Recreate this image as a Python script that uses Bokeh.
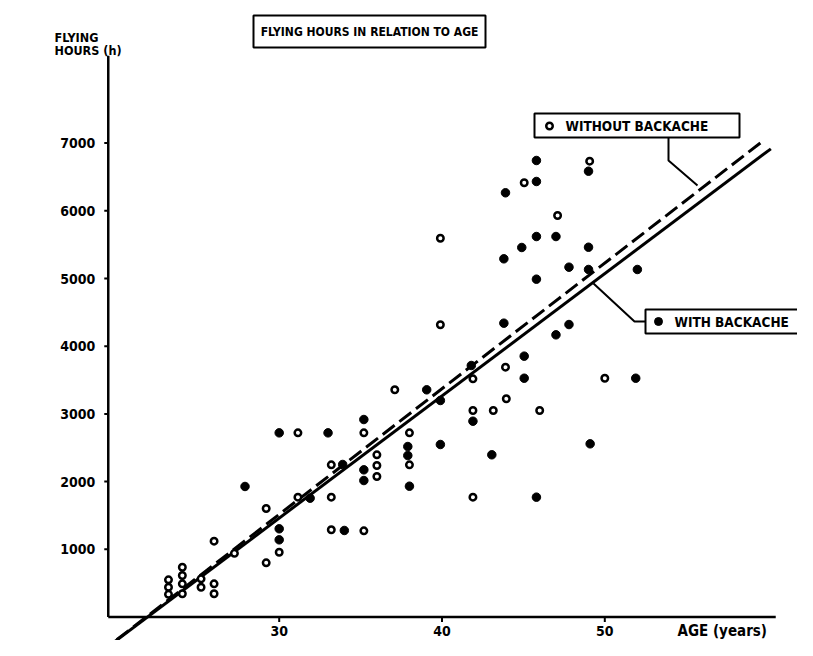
from bokeh.plotting import figure
from bokeh.models import Range1d, Label
from bokeh.core.properties import value
from bokeh.embed import file_html
from bokeh.resources import INLINE

# ---------------- data ----------------
age_without = [23.2, 23.2, 23.2, 24.05, 24.05, 24.05, 24.05, 25.2, 25.2, 26.0, 26.0, 26.0,
               27.25, 29.2, 29.2, 30.0, 31.15, 31.15, 33.2, 33.2, 33.2, 35.2, 35.2, 36.0,
               36.0, 36.0, 37.1, 38.0, 38.0, 39.9, 39.9, 41.9, 41.9, 41.9, 43.15, 43.9,
               43.95, 45.05, 46.0, 47.1, 49.07, 50.0]
hours_without = [549, 440, 335, 735, 613, 490, 343, 564, 440, 490, 343, 1120,
                 940, 1603, 800, 957, 2720, 1770, 2248, 1770, 1288, 2720, 1273, 2395,
                 2238, 2075, 3356, 2720, 2248, 5595, 4316, 3518, 3050, 1770, 3050, 3690,
                 3223, 6414, 3050, 5931, 6733, 3527]

age_with = [27.9, 30.0, 30.0, 30.0, 31.9, 33.0, 33.9, 34.0, 35.2, 35.2, 35.2, 37.9, 37.9,
            38.0, 39.06, 39.9, 39.9, 41.8, 41.9, 43.06, 43.8, 43.8, 43.9, 45.05, 45.05,
            44.9, 45.8, 45.8, 45.8, 45.8, 45.8, 47.0, 47.0, 47.8, 47.8, 49.0, 49.0, 49.0,
            49.1, 51.9, 52.0]
hours_with = [1928, 2720, 1303, 1140, 1755, 2720, 2253, 1278, 2917, 2174, 2016, 2518, 2385,
              1932, 3356, 3198, 2548, 3715, 2892, 2396, 5291, 4340, 6266, 3853, 3527,
              5458, 6743, 6433, 5620, 4990, 1770, 5620, 4168, 5167, 4320, 6585, 5462, 5133,
              2558, 3527, 5133]

# regression lines (intercept, slope) and drawn age span
reg_without = (-4052.0, 185.6)
reg_without_span = [19.0, 59.6]
reg_with = (-3957.0, 180.6)
reg_with_span = [19.0, 60.2]

x_ticks = [30, 40, 50]
x_tick_labels = ["30", "40", "50"]
y_ticks = [1000, 2000, 3000, 4000, 5000, 6000, 7000]
y_tick_labels = ["1000", "2000", "3000", "4000", "5000", "6000", "7000"]
axis_origin = (19.5, 0)
axis_x_end = 60.5
axis_y_end = 8290

# ---------------- layout helpers ----------------
W, H = 797, 640
SX = 16.28                 # px per year
SY = 0.0677                # px per hour
X0 = 30 - 278.7 / SX       # data x at left edge
Y1 = 616.5 / SY            # data y at top edge

def dx(px):
    return X0 + px / SX

def dy(py):
    return Y1 - py / SY

FONT_STR = "Liberation Sans Narrow, DejaVu Sans Condensed, sans-serif"
FONT = value(FONT_STR)

p = figure(width=W, height=H, min_border=0, toolbar_location=None, output_backend="svg",
           x_range=Range1d(X0, X0 + W / SX), y_range=Range1d(Y1 - H / SY, Y1),
           x_axis_type=None, y_axis_type=None)
p.grid.visible = False
p.outline_line_color = None
p.background_fill_color = "white"
p.border_fill_color = "white"

# axes
ox, oy = axis_origin
p.line([ox, axis_x_end], [oy, oy], line_color="black", line_width=2.5)
p.line([ox, ox], [oy, axis_y_end], line_color="black", line_width=2.5)
p.segment(x0=[ox] * len(y_ticks), y0=y_ticks, x1=[ox - 4 / SX] * len(y_ticks), y1=y_ticks,
          line_color="black", line_width=2)
p.segment(x0=x_ticks, y0=[oy] * 3, x1=x_ticks, y1=[oy - 5 / SY] * 3,
          line_color="black", line_width=2)
p.text(x=[ox - 13 / SX] * len(y_ticks), y=y_ticks, text=y_tick_labels, text_font=FONT,
       text_font_style="bold", text_font_size="14px", text_align="right",
       text_baseline="middle", text_color="black")
p.text(x=x_ticks, y=[dy(630)] * 3, text=x_tick_labels, text_font=FONT,
       text_font_style="bold", text_font_size="14px", text_align="center",
       text_baseline="middle", text_color="black")

for txt, px, py, size in [("AGE (years)", 677, 630, "15px"), ("FLYING", 54, 37, "12.5px"),
                          ("HOURS (h)", 54, 50, "12.5px")]:
    p.add_layout(Label(x=dx(px), y=dy(py), text=txt, text_font=FONT_STR, text_font_style="bold",
                       text_font_size=size, text_align="left", text_baseline="middle",
                       text_color="black"))

# regression lines
a, b = reg_without
p.line(reg_without_span, [a + b * v for v in reg_without_span], line_color="black",
       line_width=3, line_dash="15 6")
a, b = reg_with
p.line(reg_with_span, [a + b * v for v in reg_with_span], line_color="black", line_width=3)

# points
p.scatter(age_with, hours_with, marker="circle", size=8.5, fill_color="black",
          line_color="black")
p.scatter(age_without, hours_without, marker="circle", size=6.5, fill_color="white",
          line_color="black", line_width=2.5)

# title box
p.quad(left=[dx(253)], right=[dx(485)], top=[dy(15)], bottom=[dy(47)], fill_color="white",
       line_color="black", line_width=2)
p.add_layout(Label(x=dx(369), y=dy(31), text="FLYING HOURS IN RELATION TO AGE", text_font=FONT_STR,
                   text_font_style="bold", text_font_size="12px", text_align="center",
                   text_baseline="middle", text_color="black"))

# legend: without backache
p.line([dx(668), dx(668), dx(697)], [dy(137), dy(160), dy(185)], line_color="black", line_width=2)
p.quad(left=[dx(534)], right=[dx(739)], top=[dy(113)], bottom=[dy(137)], fill_color="white",
       line_color="black", line_width=2)
p.scatter([dx(549)], [dy(125.5)], marker="circle", size=6.5, fill_color="white",
          line_color="black", line_width=2.5)
p.add_layout(Label(x=dx(565), y=dy(125.5), text="WITHOUT BACKACHE", text_font=FONT_STR,
                   text_font_style="bold", text_font_size="13.5px", text_align="left",
                   text_baseline="middle", text_color="black"))

# legend: with backache
p.line([dx(593), dx(634), dx(645)], [dy(283), dy(321), dy(321)], line_color="black", line_width=2)
p.quad(left=[dx(645)], right=[dx(820)], top=[dy(309)], bottom=[dy(333)], fill_color="white",
       line_color="black", line_width=2)
p.scatter([dx(658)], [dy(321)], marker="circle", size=8, fill_color="black", line_color="black")
p.add_layout(Label(x=dx(674), y=dy(321), text="WITH  BACKACHE", text_font=FONT_STR,
                   text_font_style="bold", text_font_size="13.5px", text_align="left",
                   text_baseline="middle", text_color="black"))

open("out.html", "w").write(file_html(p, INLINE))
